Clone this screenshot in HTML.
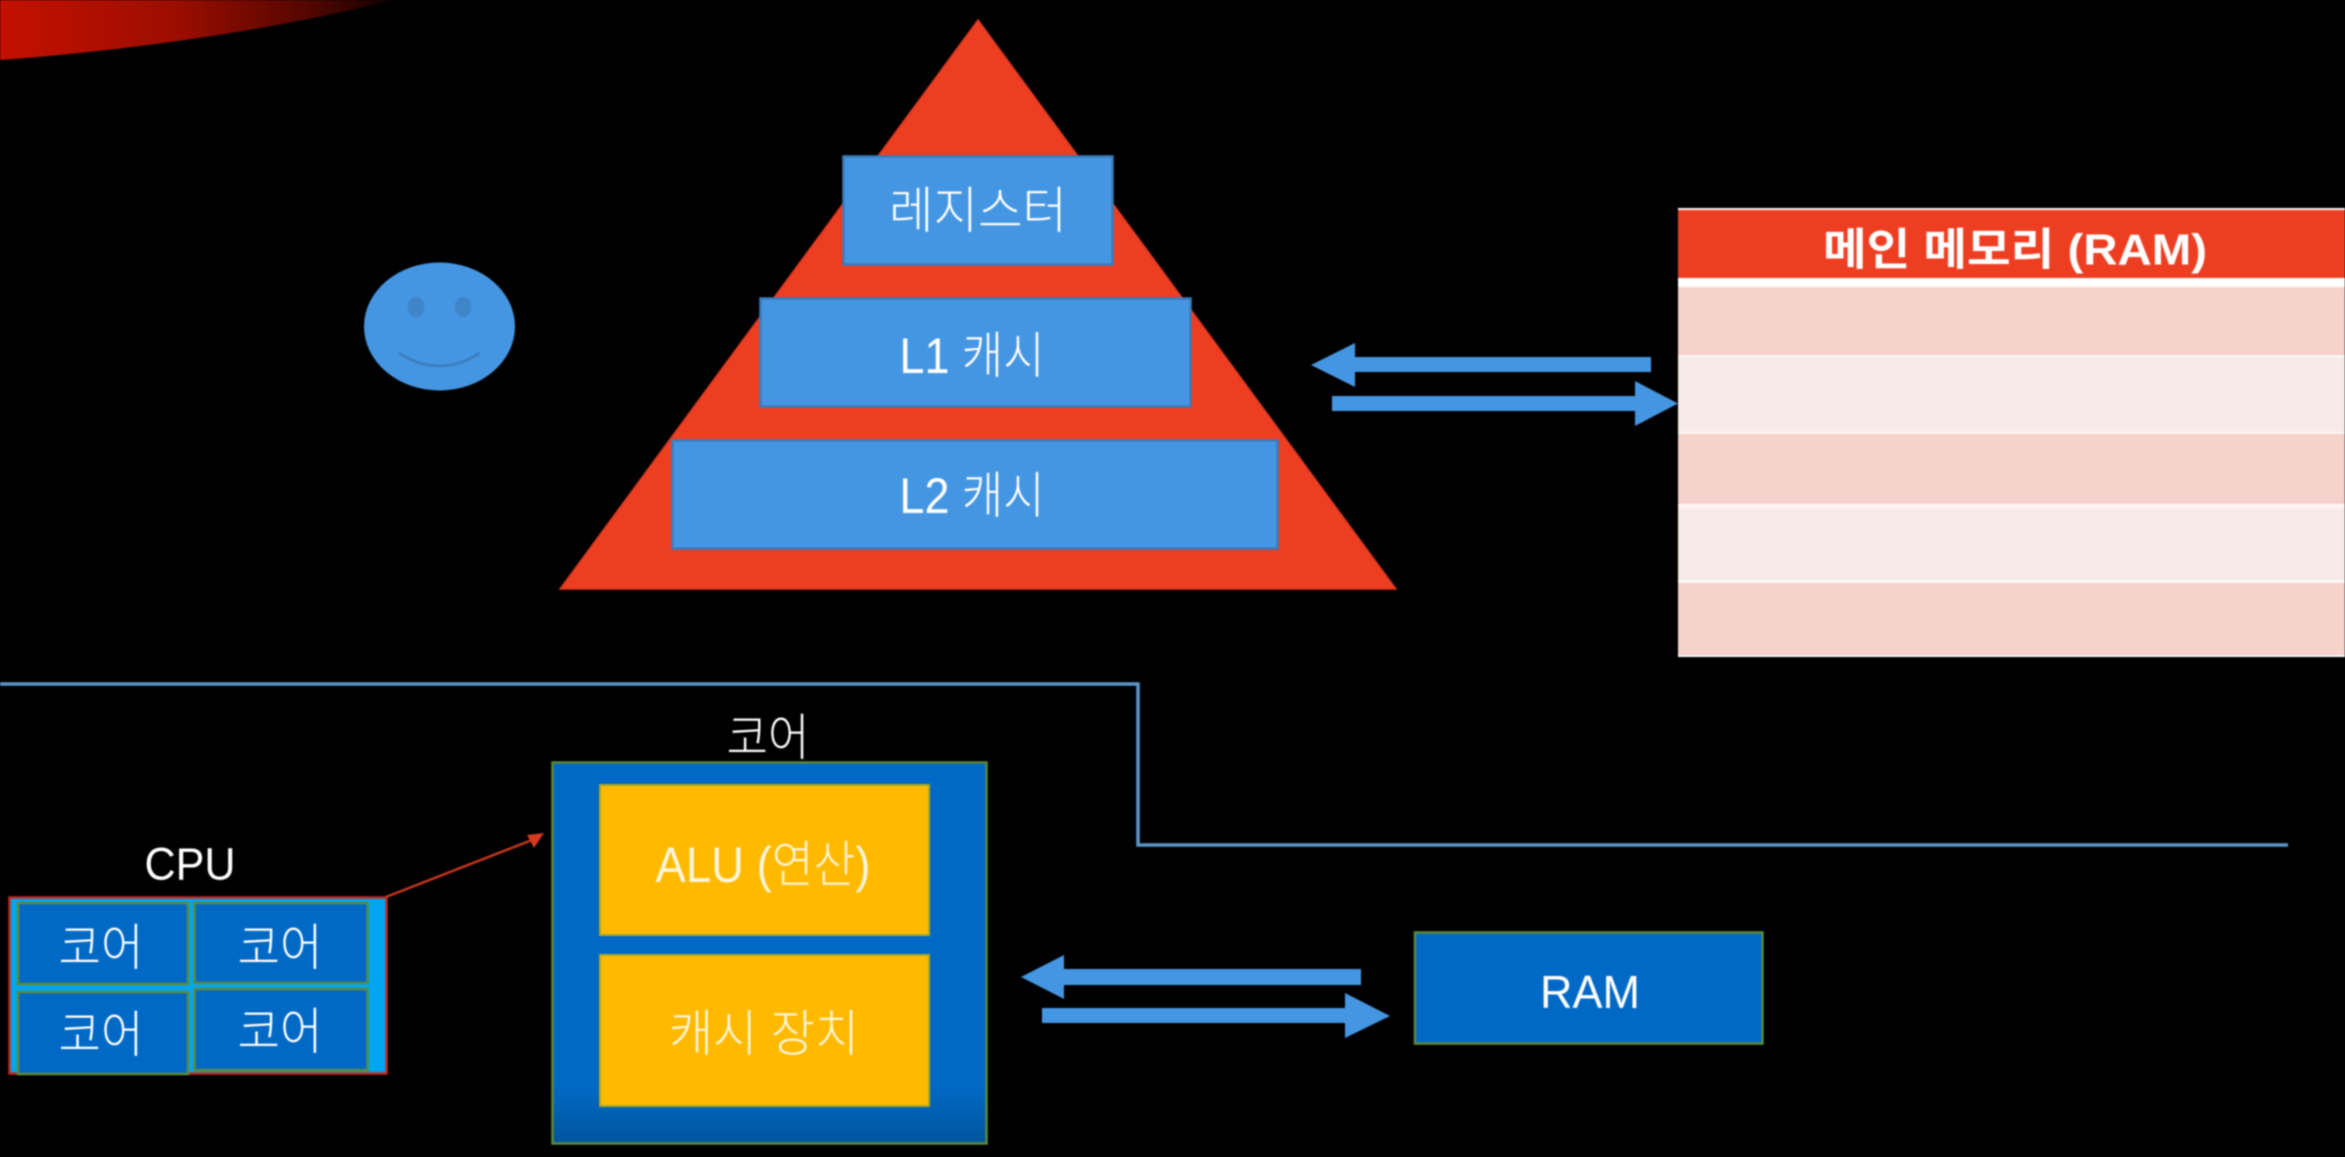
<!DOCTYPE html>
<html lang="ko">
<head>
<meta charset="utf-8">
<title>메모리 계층 구조</title>
<style>
html,body{margin:0;padding:0;background:#000;width:2345px;height:1157px;overflow:hidden}
svg{display:block;filter:blur(0.8px)}
text{font-family:"Liberation Sans","Noto Sans CJK KR",sans-serif;text-anchor:middle;fill:#fff;dominant-baseline:central}
.k{font-weight:300}
</style>
</head>
<body>
<svg width="2345" height="1157" viewBox="0 0 2345 1157" xmlns="http://www.w3.org/2000/svg">
<defs>
<linearGradient id="sw" x1="0" x2="1" y1="0" y2="0">
<stop offset="0" stop-color="#c41000"/><stop offset="0.45" stop-color="#9c0d00"/><stop offset="0.8" stop-color="#4f0600"/><stop offset="1" stop-color="#120100"/>
</linearGradient>
<linearGradient id="core" x1="0" x2="0" y1="0" y2="1">
<stop offset="0" stop-color="#0069c6"/><stop offset="0.85" stop-color="#0069c6"/><stop offset="1" stop-color="#00559c"/>
</linearGradient>
</defs>
<rect width="2345" height="1157" fill="#000"/>

<!-- swoosh -->
<path d="M0 0H392C300 24 160 48 0 60Z" fill="url(#sw)"/>

<!-- smiley -->
<ellipse cx="439.5" cy="326.5" rx="75.5" ry="64" fill="#4596e2"/>
<ellipse cx="416" cy="307" rx="8.5" ry="10" fill="#3f86c8"/>
<ellipse cx="463" cy="307" rx="8.5" ry="10" fill="#3f86c8"/>
<path d="M399 353Q439 379 480 353" fill="none" stroke="#3a80c0" stroke-width="3"/>

<!-- pyramid -->
<polygon points="978,20 1396,589 560,589" fill="#ee3e22" stroke="#d8381f" stroke-width="1.5"/>
<rect x="843.5" y="156.5" width="269" height="108" fill="#4596e2" stroke="#3a7cba" stroke-width="2.5"/>
<rect x="760.5" y="298.5" width="430" height="108" fill="#4596e2" stroke="#3a7cba" stroke-width="2.5"/>
<rect x="672.5" y="440.5" width="605" height="108" fill="#4596e2" stroke="#3a7cba" stroke-width="2.5"/>
<text class="k" x="978" y="211" font-size="50" textLength="178" lengthAdjust="spacingAndGlyphs">레지스터</text>
<text class="k" x="972" y="356" font-size="50" textLength="145" lengthAdjust="spacingAndGlyphs">L1 캐시</text>
<text class="k" x="972" y="496" font-size="50" textLength="145" lengthAdjust="spacingAndGlyphs">L2 캐시</text>

<!-- top arrows -->
<polygon points="1311,365 1355,343 1355,357 1651,357 1651,372 1355,372 1355,387" fill="#4596e2"/>
<polygon points="1678,403.500 1635,381 1635,396 1332,396 1332,411 1635,411 1635,426" fill="#4596e2"/>

<!-- main memory table -->
<rect x="1678" y="208" width="667" height="449" fill="#fdf6f4"/>
<rect x="1678" y="210" width="667" height="68" fill="#ee3e22"/>
<rect x="1678" y="278" width="667" height="9" fill="#ffffff"/>
<rect x="1678" y="287" width="667" height="68" fill="#f5d2cb"/>
<rect x="1678" y="357" width="667" height="75" fill="#f8ebe7"/>
<rect x="1678" y="434" width="667" height="70" fill="#f5d2cb"/>
<rect x="1678" y="508" width="667" height="72" fill="#f8ebe7"/>
<rect x="1678" y="583" width="667" height="72" fill="#f5d2cb"/>
<text x="2015" y="250" font-size="44" font-weight="700" textLength="384" lengthAdjust="spacingAndGlyphs">메인 메모리 (RAM)</text>

<!-- divider line -->
<polyline points="0,684 1138,684 1138,845 2288,845" fill="none" stroke="#5e95c8" stroke-width="3.500"/>

<!-- CPU -->
<text class="k" x="190" y="864" font-size="45" textLength="91" lengthAdjust="spacingAndGlyphs">CPU</text>
<rect x="9.500" y="897.500" width="377" height="176" fill="#02a6f0" stroke="#c22a20" stroke-width="2.500"/>
<g fill="#0069c6" stroke="#5d8a3e" stroke-width="2.500">
<rect x="18" y="903" width="170" height="81"/>
<rect x="194.500" y="903" width="173" height="80"/>
<rect x="18" y="992" width="170" height="82"/>
<rect x="194.500" y="989" width="173" height="81"/>
</g>
<text class="k" x="101" y="948" font-size="50" textLength="85" lengthAdjust="spacingAndGlyphs">코어</text>
<text class="k" x="280" y="948" font-size="50" textLength="85" lengthAdjust="spacingAndGlyphs">코어</text>
<text class="k" x="101" y="1035" font-size="50" textLength="85" lengthAdjust="spacingAndGlyphs">코어</text>
<text class="k" x="280" y="1032" font-size="50" textLength="85" lengthAdjust="spacingAndGlyphs">코어</text>

<!-- red pointer -->
<line x1="386" y1="897" x2="532" y2="840" stroke="#c4351f" stroke-width="2.500"/>
<polygon points="544,833 527,835 534,848" fill="#d43a20"/>

<!-- core detail -->
<text class="k" x="768" y="738" font-size="50" textLength="83" lengthAdjust="spacingAndGlyphs">코어</text>
<rect x="552.500" y="762.500" width="434" height="381" fill="url(#core)" stroke="#5d8a3e" stroke-width="2.500"/>
<rect x="600" y="785" width="329" height="150" fill="#ffba00" stroke="#a8a826" stroke-width="2"/>
<rect x="600" y="955" width="329" height="151" fill="#ffba00" stroke="#a8a826" stroke-width="2"/>
<text class="k" x="763" y="865" font-size="50" style="fill:#fff5d8" textLength="215" lengthAdjust="spacingAndGlyphs">ALU (연산)</text>
<text class="k" x="764" y="1034" font-size="50" style="fill:#fff5d8" textLength="190" lengthAdjust="spacingAndGlyphs">캐시 장치</text>

<!-- bottom arrows -->
<polygon points="1021,977 1064,955 1064,969 1361,969 1361,985 1064,985 1064,999" fill="#4596e2"/>
<polygon points="1390,1016 1345,993 1345,1008 1042,1008 1042,1023 1345,1023 1345,1038" fill="#4596e2"/>

<!-- RAM -->
<rect x="1415" y="932.500" width="347.500" height="111" fill="#0069c6" stroke="#5d8a3e" stroke-width="2.500"/>
<text class="k" x="1590" y="992" font-size="46" textLength="100" lengthAdjust="spacingAndGlyphs">RAM</text>
</svg>
</body>
</html>
